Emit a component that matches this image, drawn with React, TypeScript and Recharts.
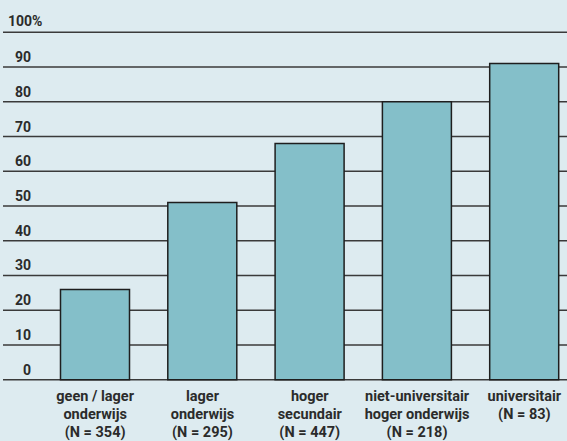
import React from "react";
import { BarChart, Bar, XAxis, YAxis, CartesianGrid } from "recharts";

const categories = ["geen / lager\nonderwijs\n(N = 354)", "lager\nonderwijs\n(N = 295)", "hoger\nsecundair\n(N = 447)", "niet-universitair\nhoger onderwijs\n(N = 218)", "universitair\n(N = 83)"];
const values = [26, 51, 68, 80, 91];
const yTicks = [0, 10, 20, 30, 40, 50, 60, 70, 80, 90, 100];

const data = categories.map((c, i) => ({ name: c, value: values[i] }));

const FONT = "Roboto, 'Liberation Sans', sans-serif";
const TEXT = "#2b2b2b";

const YTick = (props: any) => {
  const { y, payload } = props;
  const v = payload.value;
  if (v === 100) {
    return (
      <text x={8} y={y - 6} textAnchor="start" fontFamily={FONT} fontWeight={700} fontSize={14} fill={TEXT}>
        100%
      </text>
    );
  }
  return (
    <text x={31} y={y - 5} textAnchor="end" fontFamily={FONT} fontWeight={700} fontSize={14} fill={TEXT}>
      {v}
    </text>
  );
};

const XTick = (props: any) => {
  const { x, payload } = props;
  const lines = String(payload.value).split("\n");
  return (
    <text textAnchor="middle" fontFamily={FONT} fontWeight={700} fontSize={14.5} fill={TEXT}>
      {lines.map((l, i) => (
        <tspan key={i} x={x} y={400.5 + i * 18.2}>
          {l}
        </tspan>
      ))}
    </text>
  );
};

export default function App() {
  return (
    <div style={{ position: "absolute", left: 0, top: 0, width: 567, height: 441, overflow: "hidden", background: "#ddebf0" }}>
      <BarChart width={578} height={441} data={data} margin={{ top: 32.3, right: 0, left: 0, bottom: 0 }}>
        <CartesianGrid vertical={false} horizontal={true} stroke="#3a3a3a" strokeWidth={1.5} />
        <XAxis
          dataKey="name"
          axisLine={false}
          tickLine={false}
          height={61.3}
          interval={0}
          padding={{ left: 38.5, right: 0 }}
          tick={<XTick />}
        />
        <YAxis width={3} domain={[0, 100]} ticks={yTicks} axisLine={false} tickLine={false} tick={<YTick />} interval={0} />
        <Bar dataKey="value" fill="#84bfc9" stroke="#1e1e1e" strokeWidth={1.5} barSize={69} isAnimationActive={false} />
      </BarChart>
    </div>
  );
}
